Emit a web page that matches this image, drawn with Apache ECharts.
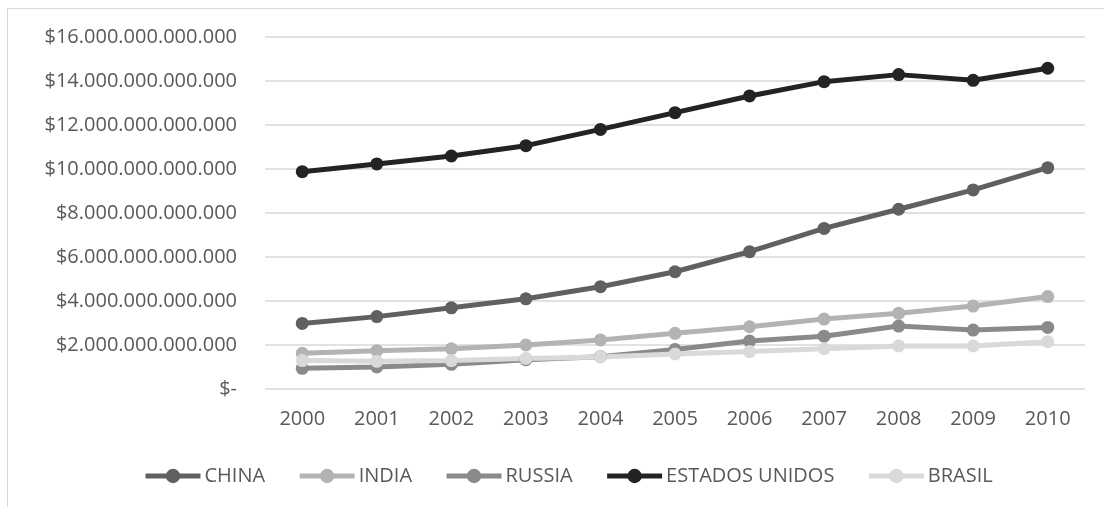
<!DOCTYPE html>
<html>
<head>
<meta charset="utf-8">
<script src="https://cdn.jsdelivr.net/npm/echarts@6/dist/echarts.min.js"></script>
<style>
  html, body { margin: 0; padding: 0; background: #ffffff; }
  #frame { position: absolute; left: 7px; top: 8px; width: 1110px; height: 520px;
           border-left: 1px solid #d9d9d9; border-top: 1px solid #d9d9d9; box-sizing: border-box; }
  #chart { position: absolute; left: 0; top: 0; width: 1104px; height: 507px; }
</style>
</head>
<body>
<div id="frame"></div>
<div id="chart"></div>
<script>
// Years on the horizontal axis
const years = ['2000', '2001', '2002', '2003', '2004', '2005', '2006', '2007', '2008', '2009', '2010'];

// GDP in trillions of dollars
const china   = [2.98, 3.29, 3.69, 4.10, 4.65, 5.33, 6.24, 7.30, 8.17, 9.05, 10.06];
const india   = [1.62, 1.74, 1.83, 2.00, 2.23, 2.53, 2.83, 3.18, 3.44, 3.77, 4.20];
const russia  = [0.94, 1.00, 1.12, 1.33, 1.47, 1.80, 2.18, 2.40, 2.86, 2.68, 2.80];
const usa     = [9.88, 10.23, 10.59, 11.06, 11.80, 12.56, 13.32, 13.97, 14.29, 14.03, 14.58];
const brasil  = [1.29, 1.26, 1.29, 1.39, 1.46, 1.59, 1.70, 1.83, 1.96, 1.96, 2.15];

// Value axis ticks (trillions)
const yTicks = [0, 2, 4, 6, 8, 10, 12, 14, 16];

const seriesDefs = [
  { name: 'CHINA', data: china, color: '#606060' },
  { name: 'INDIA', data: india, color: '#b3b3b3' },
  { name: 'RUSSIA', data: russia, color: '#8a8a8a' },
  { name: 'ESTADOS UNIDOS', data: usa, color: '#232323' },
  { name: 'BRASIL', data: brasil, color: '#d9d9d9' }
];

const font = "'Open Sans', 'Noto Sans', sans-serif";
const textColor = '#595959';

function moneyLabel(v) {
  if (v === 0) return '$-';
  const whole = String(Math.round(v * 1000)).replace(/\B(?=(\d{3})+(?!\d))/g, '.');
  return '$' + whole + '.000.000.000';
}

const chart = echarts.init(document.getElementById('chart'), null, { renderer: 'canvas' });
chart.setOption({
  animation: false,
  backgroundColor: 'transparent',
  grid: { left: 265, right: 19, top: 37, bottom: 118 },
  xAxis: {
    type: 'category',
    data: years,
    boundaryGap: true,
    axisLine: { show: false },
    axisTick: { show: false },
    axisLabel: { color: textColor, fontFamily: font, fontSize: 20, margin: 20 }
  },
  yAxis: {
    type: 'value',
    min: yTicks[0],
    max: yTicks[yTicks.length - 1],
    interval: 2,
    axisLine: { show: false },
    axisTick: { show: false },
    splitLine: { lineStyle: { color: '#d9d9d9', width: 1.5 } },
    axisLabel: { color: textColor, fontFamily: font, fontSize: 20, margin: 28, formatter: moneyLabel }
  },
  legend: {
    bottom: 16,
    left: 138,
    itemWidth: 55,
    itemHeight: 18,
    itemGap: 32,
    lineStyle: { width: 5 },
    textStyle: { color: textColor, fontFamily: font, fontSize: 20, padding: [0, 0, 0, -1] },
    data: seriesDefs.map(s => s.name)
  },
  series: seriesDefs.map(s => ({
    name: s.name,
    type: 'line',
    data: s.data,
    symbol: 'circle',
    symbolSize: 13,
    color: s.color,
    lineStyle: { width: 5, color: s.color },
    itemStyle: { color: s.color }
  }))
});
</script>
</body>
</html>
